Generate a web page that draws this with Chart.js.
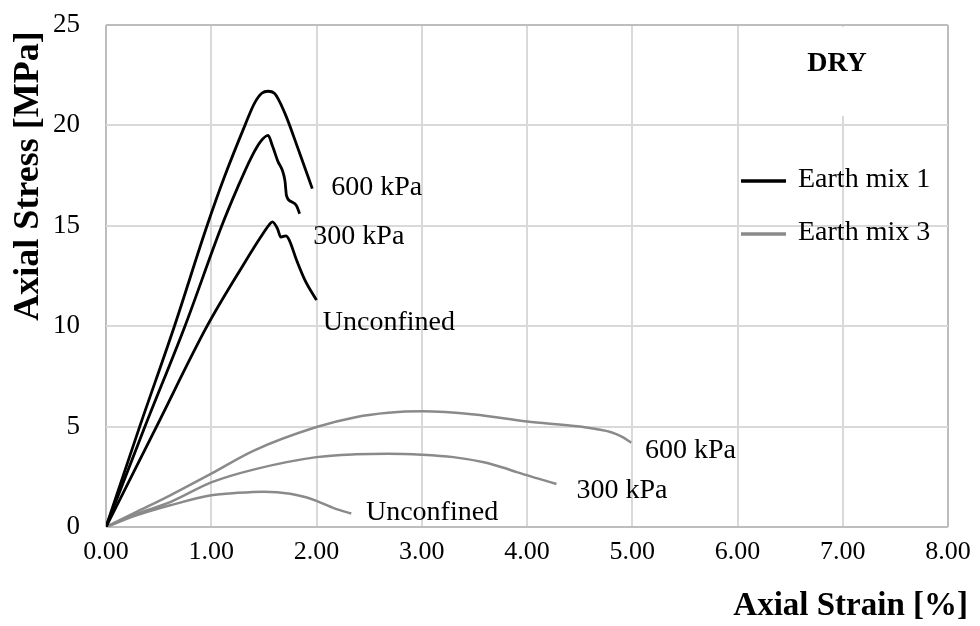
<!DOCTYPE html>
<html>
<head>
<meta charset="utf-8">
<script src="https://cdn.jsdelivr.net/npm/chart.js@4.4.1/dist/chart.umd.min.js"></script>
<style>
  html, body { margin: 0; padding: 0; background: #fff; }
  #wrap { width: 980px; height: 626px; }
</style>
</head>
<body>
<div id="wrap"><canvas id="stressChart"></canvas></div>
<script>
// Earth mix 1 (black curves), strain [%] / stress [MPa]
const mix1Strain600 = [0, 0.32, 0.65, 0.96, 1.13, 1.32, 1.41, 1.48, 1.54, 1.60, 1.70, 1.83, 1.96];
const mix1Stress600 = [0, 5.0, 10.0, 15.0, 17.5, 20.0, 21.1, 21.6, 21.7, 21.6, 20.6, 18.76, 16.85];

const mix1Strain300 = [0, 0.37, 0.75, 1.10, 1.25, 1.38, 1.47, 1.54, 1.58, 1.63, 1.70, 1.715, 1.76, 1.81, 1.84];
const mix1Stress300 = [0, 5.0, 10.0, 15.0, 16.9, 18.4, 19.2, 19.5, 19.0, 18.25, 17.25, 16.5, 16.2, 16.0, 15.6];

const mix1StrainUnc = [0, 0.48, 0.96, 1.31, 1.47, 1.55, 1.58, 1.63, 1.66, 1.71, 1.74, 1.81, 1.89, 2.00];
const mix1StressUnc = [0, 5.0, 10.0, 13.1, 14.44, 15.05, 15.2, 14.85, 14.44, 14.5, 14.3, 13.3, 12.3, 11.3];

// Earth mix 3 (grey curves)
const mix3Strain600 = [0, 0.29, 0.61, 1.00, 1.41, 2.00, 2.37, 2.68, 3.01, 3.50, 4.00, 4.50, 4.80, 4.90, 4.99];
const mix3Stress600 = [0, 0.75, 1.58, 2.66, 3.82, 4.98, 5.47, 5.69, 5.76, 5.6, 5.25, 5.0, 4.72, 4.5, 4.2];

const mix3Strain300 = [0, 0.29, 0.61, 1.00, 1.41, 2.00, 2.37, 2.68, 3.00, 3.30, 3.59, 3.77, 3.91, 4.10, 4.28];
const mix3Stress300 = [0, 0.65, 1.24, 2.22, 2.87, 3.48, 3.62, 3.65, 3.6, 3.48, 3.22, 2.96, 2.72, 2.42, 2.14];

const mix3StrainUnc = [0, 0.29, 0.61, 1.00, 1.25, 1.50, 1.75, 1.90, 2.00, 2.17, 2.33];
const mix3StressUnc = [0, 0.58, 1.08, 1.58, 1.70, 1.76, 1.66, 1.48, 1.30, 0.93, 0.67];

const seriesNames = ['Earth mix 1', 'Earth mix 3'];
const curveTexts = ['600 kPa', '300 kPa', 'Unconfined'];

// where each curve label sits, in axis units (left edge, vertical middle)
const curveLabels = [
  { text: curveTexts[0], x: 2.14, y: 16.9 },
  { text: curveTexts[1], x: 1.97, y: 14.45 },
  { text: curveTexts[2], x: 2.06, y: 10.2 },
  { text: curveTexts[0], x: 5.12, y: 3.8 },
  { text: curveTexts[1], x: 4.47, y: 1.8 },
  { text: curveTexts[2], x: 2.47, y: 0.7 }
];

const SERIF = "'Liberation Serif', 'Times New Roman', serif";
const BLACK = '#000000';
const GREY = '#8a8a8a';

const toPoints = (xs, ys) => xs.map((x, i) => ({ x: x, y: ys[i] }));

const curve = (label, xs, ys, color, width) => ({
  label: label,
  data: toPoints(xs, ys),
  borderColor: color,
  borderWidth: width,
  pointRadius: 0,
  cubicInterpolationMode: 'monotone',
  fill: false
});

// DRY box, legend, curve labels and axis titles
const overlayPlugin = {
  id: 'overlay',
  beforeDatasetsDraw(chart) {
    const { ctx, chartArea: a, scales } = chart;
    const x6 = scales.x.getPixelForValue(6);
    ctx.save();
    ctx.fillStyle = '#ffffff';
    ctx.fillRect(x6 + 2, a.top + 2, a.right - x6 - 4, 89);
    ctx.fillStyle = '#000';
    ctx.font = 'bold 28px ' + SERIF;
    ctx.textAlign = 'center';
    ctx.textBaseline = 'middle';
    ctx.fillText('DRY', 837, 64);
    ctx.restore();
  },
  afterDatasetsDraw(chart) {
    const { ctx, scales } = chart;
    ctx.save();
    ctx.font = '28px ' + SERIF;
    ctx.fillStyle = '#000';
    ctx.textAlign = 'left';
    ctx.textBaseline = 'middle';
    curveLabels.forEach(l => {
      ctx.fillText(l.text, scales.x.getPixelForValue(l.x), scales.y.getPixelForValue(l.y));
    });

    // legend
    const legendColors = [BLACK, GREY];
    const legendY = [181, 234];
    seriesNames.forEach((name, i) => {
      ctx.strokeStyle = legendColors[i];
      ctx.lineWidth = 3.5;
      ctx.beginPath();
      ctx.moveTo(741, legendY[i]);
      ctx.lineTo(786, legendY[i]);
      ctx.stroke();
      ctx.fillText(name, 798, legendY[i] - 1);
    });

    // axis titles
    ctx.font = 'bold 33px ' + SERIF;
    ctx.textAlign = 'right';
    ctx.fillText('Axial Strain [%]', 968, 606);
    ctx.translate(29, 176);
    ctx.rotate(-Math.PI / 2);
    ctx.textAlign = 'center';
    ctx.font = 'bold 36px ' + SERIF;
    ctx.fillText('Axial Stress [MPa]', 0, 0);
    ctx.restore();
  }
};

const edgeGrid = (ctx, last) => (ctx.index === 0 || ctx.index === last) ? '#bdbdbd' : '#d9d9d9';

new Chart(document.getElementById('stressChart'), {
  type: 'line',
  data: {
    datasets: [
      curve('Earth mix 1 600 kPa', mix1Strain600, mix1Stress600, BLACK, 2.8),
      curve('Earth mix 1 300 kPa', mix1Strain300, mix1Stress300, BLACK, 2.8),
      curve('Earth mix 1 Unconfined', mix1StrainUnc, mix1StressUnc, BLACK, 2.8),
      curve('Earth mix 3 600 kPa', mix3Strain600, mix3Stress600, GREY, 2.5),
      curve('Earth mix 3 300 kPa', mix3Strain300, mix3Stress300, GREY, 2.5),
      curve('Earth mix 3 Unconfined', mix3StrainUnc, mix3StressUnc, GREY, 2.5)
    ]
  },
  options: {
    responsive: true,
    maintainAspectRatio: false,
    animation: false,
    layout: {
      padding: { top: 25, right: 32, left: 0, bottom: 0 }
    },
    plugins: {
      legend: { display: false },
      tooltip: { enabled: false }
    },
    scales: {
      x: {
        type: 'linear',
        min: 0,
        max: 8,
        afterFit: s => {
          s.height = 99;
          s.paddingLeft = 0;
          s.paddingRight = 0;
        },
        border: { display: false },
        grid: {
          color: c => edgeGrid(c, 8),
          lineWidth: 2,
          drawTicks: false
        },
        ticks: {
          stepSize: 1,
          padding: 10,
          color: '#000',
          font: { family: SERIF, size: 26 },
          callback: v => v.toFixed(2)
        }
      },
      y: {
        type: 'linear',
        min: 0,
        max: 25,
        afterFit: s => {
          s.width = 106;
          s.paddingTop = 0;
          s.paddingBottom = 0;
        },
        border: { display: false },
        grid: {
          color: c => edgeGrid(c, 5),
          lineWidth: 2,
          drawTicks: false
        },
        ticks: {
          stepSize: 5,
          padding: 26,
          color: '#000',
          font: { family: SERIF, size: 27 }
        }
      }
    }
  },
  plugins: [overlayPlugin]
});
</script>
</body>
</html>
